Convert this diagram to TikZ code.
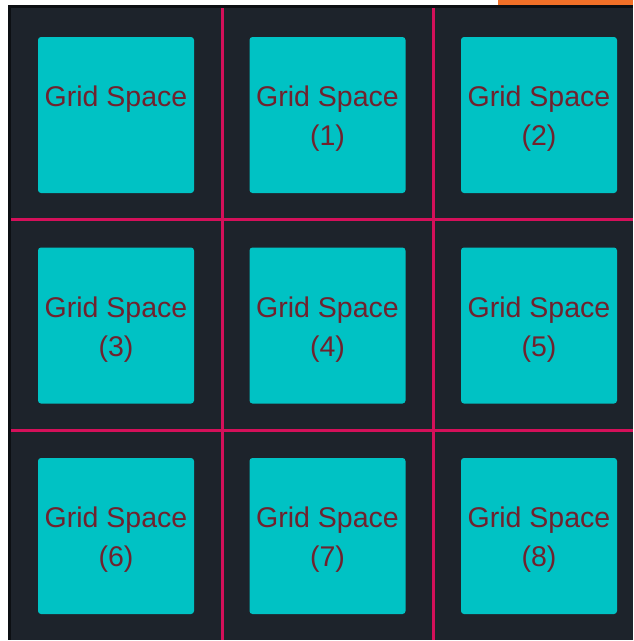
\documentclass[tikz,border=0pt]{standalone}
\usepackage{fontspec}
\setmainfont{Liberation Sans}
\usepackage{xcolor}
\usetikzlibrary{positioning}

\definecolor{panelbg}{RGB}{29,35,43}
\definecolor{panelrim}{RGB}{12,15,19}
\definecolor{gridcyan}{RGB}{0,194,196}
\definecolor{gridline}{RGB}{212,16,90}
\definecolor{gridtext}{RGB}{112,34,46}
\definecolor{taborange}{RGB}{242,112,40}

\begin{document}
\begin{tikzpicture}[
  x=1pt, y=-1pt,
  divider/.style={draw=gridline, line width=3pt},
  spacebox/.style={fill=gridcyan, rounded corners=3pt, minimum width=156pt, minimum height=156pt, inner sep=0pt},
  spacetext/.style={text=gridtext, align=center, inner sep=0pt, font=\fontsize{28.5}{39}\selectfont}
]

% Rahmen und Hintergrund
\useasboundingbox (0, 0) rectangle (633, 641);
\fill[white] (0, 0) rectangle (633, 641);
\fill[taborange] (498, 0) rectangle (633, 5);
\fill[panelrim] (8, 5) rectangle (633, 640);
\fill[panelbg] (11, 8) rectangle (633, 640);

% Trennlinien zwischen den Zellen
\draw[divider] (222, 8) -- (222, 640);
\draw[divider] (433, 8) -- (433, 640);
\draw[divider] (11, 219) -- (633, 219);
\draw[divider] (11, 430) -- (633, 430);

% Zeile 1
\node[spacebox] (gs0) at (116, 115) {};
\node[spacebox] (gs1) at (327.5, 115) {};
\node[spacebox] (gs2) at (539, 115) {};

% Zeile 2
\node[spacebox] (gs3) at (116, 325.5) {};
\node[spacebox] (gs4) at (327.5, 325.5) {};
\node[spacebox] (gs5) at (539, 325.5) {};

% Zeile 3
\node[spacebox] (gs6) at (116, 536) {};
\node[spacebox] (gs7) at (327.5, 536) {};
\node[spacebox] (gs8) at (539, 536) {};

% Beschriftungen
\node[spacetext, below=49pt of gs0.north] (t0) {Grid Space};
\node[spacetext, below=49pt of gs1.north] (t1) {Grid Space\\(1)};
\node[spacetext, below=49pt of gs2.north] (t2) {Grid Space\\(2)};
\node[spacetext, below=49pt of gs3.north] (t3) {Grid Space\\(3)};
\node[spacetext, below=49pt of gs4.north] (t4) {Grid Space\\(4)};
\node[spacetext, below=49pt of gs5.north] (t5) {Grid Space\\(5)};
\node[spacetext, below=49pt of gs6.north] (t6) {Grid Space\\(6)};
\node[spacetext, below=49pt of gs7.north] (t7) {Grid Space\\(7)};
\node[spacetext, below=49pt of gs8.north] (t8) {Grid Space\\(8)};

\end{tikzpicture}
\end{document}
